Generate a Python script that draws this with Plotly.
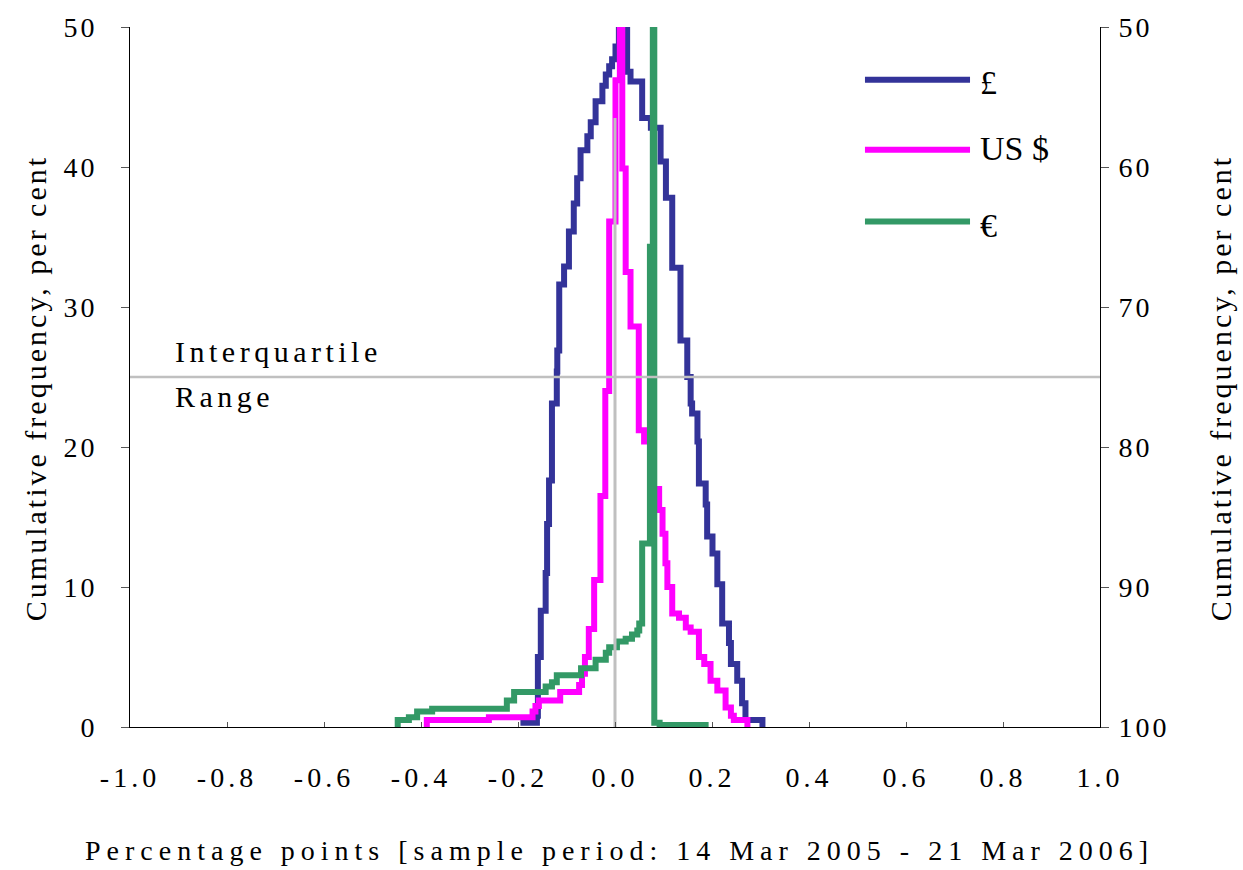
import plotly.graph_objects as go

# ---------------- data ----------------
SERIES_NAMES = ["£", "US $", "€"]
SERIES_COLORS = ["#333399", "#FF00FF", "#339966"]

# Folded cumulative distributions (step points, y = level reached at x)
GBP_X = [-0.195, -0.161, -0.159, -0.153, -0.143, -0.140, -0.136, -0.130, -0.120,
         -0.119, -0.115, -0.105, -0.095, -0.085, -0.078, -0.071, -0.057, -0.050,
         -0.040, -0.026, -0.019, -0.012, -0.006, 0.001, 0.008,
         0.025, 0.032, 0.056, 0.074, 0.094, 0.105, 0.118, 0.135, 0.149, 0.156,
         0.159, 0.170, 0.173, 0.187, 0.190, 0.201, 0.211, 0.221, 0.235, 0.239,
         0.252, 0.262, 0.269, 0.304]
GBP_Y = [0.3, 0.8, 5.0, 8.3, 11.0, 14.5, 17.6, 23.1, 25.4,
         26.9, 31.6, 32.9, 35.4, 37.4, 39.2, 41.2, 42.2, 43.2,
         44.7, 45.8, 46.6, 47.2, 47.7, 48.6, 50.0,
         46.8, 46.1, 43.5, 42.8, 40.4, 37.8, 32.8, 27.6, 25.0, 23.1,
         22.4, 20.4, 17.4, 15.9, 13.6, 12.4, 10.2, 7.4, 6.0, 4.5,
         3.3, 1.7, 0.5, 0.0]

USD_X = [-0.392, -0.388, -0.260, -0.170, -0.164, -0.157, -0.113, -0.074, -0.068,
         -0.062, -0.054, -0.043, -0.030, -0.020, -0.012, 0.001, 0.010,
         0.015, 0.022, 0.032, 0.049, 0.060, 0.078, 0.091, 0.098, 0.104, 0.108,
         0.118, 0.132, 0.146, 0.156, 0.173, 0.184, 0.197, 0.211, 0.228, 0.239,
         0.245, 0.273]
USD_Y = [0.0, 0.5, 0.7, 1.1, 1.5, 1.9, 2.5, 3.0, 3.8,
         5.0, 7.0, 10.5, 16.5, 24.0, 36.1, 46.2, 50.0,
         39.9, 32.5, 28.6, 21.2, 20.4, 17.0, 15.5, 13.8, 11.7, 10.0,
         8.1, 7.8, 7.1, 6.8, 5.0, 4.5, 3.3, 2.6, 1.4, 0.8,
         0.5, 0.0]

EUR_X = [-0.452, -0.448, -0.425, -0.408, -0.377, -0.223, -0.208, -0.143, -0.130,
         -0.120, -0.070, -0.040, -0.019, -0.012, 0.004, 0.022, 0.035, 0.046,
         0.050, 0.056, 0.072, 0.078,
         0.081, 0.092, 0.193]
EUR_Y = [0.0, 0.5, 0.7, 1.1, 1.3, 1.9, 2.5, 2.9, 3.2,
         3.7, 4.2, 4.8, 5.3, 5.7, 6.1, 6.3, 6.6, 6.9,
         7.4, 13.1, 34.3, 50.0,
         0.3, 0.15, 0.15]

X_TICKS = [-1.0, -0.8, -0.6, -0.4, -0.2, 0.0, 0.2, 0.4, 0.6, 0.8, 1.0]
X_TICK_LABELS = ["-1.0", "-0.8", "-0.6", "-0.4", "-0.2", "0.0", "0.2", "0.4", "0.6", "0.8", "1.0"]
Y_LEFT_TICKS = [0, 10, 20, 30, 40, 50]
Y_RIGHT_TICKS = [50, 60, 70, 80, 90, 100]
UPPER_QUARTILE = 75          # on the right (reversed) axis == 25 on the left axis
ZERO_LINE_Y = [0, 43.5]

X_TITLE = "Percentage points [sample period: 14 Mar 2005 - 21 Mar 2006]"
Y_TITLE = "Cumulative frequency, per cent"
IQR_LABEL = ["Interquartile", "Range"]

SERIF = "Liberation Serif"


def spaced(text, px):
    return f'<span style="letter-spacing:{px}px">{text}</span>'


fig = go.Figure()

# interquartile reference line, on the right-hand (reversed) axis, drawn first
fig.add_trace(go.Scatter(x=[X_TICKS[0], X_TICKS[-1]], y=[UPPER_QUARTILE, UPPER_QUARTILE],
                         yaxis="y2", mode="lines", showlegend=False,
                         line=dict(color="#C0C0C0", width=2.5), hoverinfo="skip"))

for xs, ys, name, color in [(GBP_X, GBP_Y, SERIES_NAMES[0], SERIES_COLORS[0]),
                            (USD_X, USD_Y, SERIES_NAMES[1], SERIES_COLORS[1]),
                            (EUR_X, EUR_Y, SERIES_NAMES[2], SERIES_COLORS[2])]:
    fig.add_trace(go.Scatter(x=xs, y=ys, mode="lines", name=name, showlegend=False,
                             line=dict(color=color, width=6, shape="hv"),
                             hoverinfo="skip"))

# vertical grey reference line at zero (drawn on top)
fig.add_trace(go.Scatter(x=[0, 0], y=ZERO_LINE_Y, mode="lines", showlegend=False,
                         line=dict(color="#C0C0C0", width=3), hoverinfo="skip"))

shapes = []
# manual legend
leg_y = [0.9245, 0.8248, 0.7222]
leg_text_y = [0.921, 0.826, 0.717]
annotations = []
for name, color, ly, ty in zip(SERIES_NAMES, SERIES_COLORS, leg_y, leg_text_y):
    shapes.append(dict(type="line", xref="paper", yref="paper", x0=0.7577, x1=0.866,
                       y0=ly, y1=ly, line=dict(color=color, width=6)))
    annotations.append(dict(xref="paper", yref="paper", x=0.8742, y=ty, text=name,
                            showarrow=False, xanchor="left", yanchor="middle",
                            font=dict(family=SERIF, size=34, color="black")))

annotations += [
    dict(xref="paper", yref="paper", x=0.505, y=-0.177, text=spaced(X_TITLE, 6),
         showarrow=False, xanchor="center", yanchor="middle",
         font=dict(family=SERIF, size=28, color="black")),
    dict(xref="paper", yref="paper", x=-0.098, y=0.484, text=spaced(Y_TITLE, 3),
         textangle=-90, showarrow=False, xanchor="center", yanchor="middle",
         font=dict(family=SERIF, size=30, color="black")),
    dict(xref="paper", yref="paper", x=1.1237, y=0.484, text=spaced(Y_TITLE, 3),
         textangle=-90, showarrow=False, xanchor="center", yanchor="middle",
         font=dict(family=SERIF, size=30, color="black")),
    dict(xref="paper", yref="paper", x=0.0443, y=0.537, text=spaced(IQR_LABEL[0], 4.5),
         showarrow=False, xanchor="left", yanchor="middle",
         font=dict(family=SERIF, size=30, color="black")),
    dict(xref="paper", yref="paper", x=0.0443, y=0.472, text=spaced(IQR_LABEL[1], 4.5),
         showarrow=False, xanchor="left", yanchor="middle",
         font=dict(family=SERIF, size=30, color="black")),
]

tickfont = dict(family=SERIF, size=28, color="black")

fig.update_layout(
    width=1243, height=870,
    margin=dict(l=130, r=143, t=25, b=143),
    paper_bgcolor="white", plot_bgcolor="white",
    showlegend=False,
    font=dict(family=SERIF),
    shapes=shapes,
    annotations=annotations,
    xaxis=dict(range=[X_TICKS[0], X_TICKS[-1]], tickmode="array", tickvals=X_TICKS,
               ticktext=[spaced(t, 4) for t in X_TICK_LABELS],
               ticks="inside", ticklen=5, tickcolor="#555555", tickwidth=1,
               showline=True, linecolor="black", linewidth=1,
               showgrid=False, zeroline=False, tickfont=tickfont,
               ticklabelstandoff=25),
    yaxis=dict(range=[0, 50], tickmode="array", tickvals=Y_LEFT_TICKS,
               ticktext=[spaced(str(v), 3) for v in Y_LEFT_TICKS],
               ticks="outside", ticklen=8, tickcolor="#555555",
               showline=True, linecolor="black", linewidth=1,
               showgrid=False, zeroline=False, tickfont=tickfont,
               ticklabelstandoff=18),
    yaxis2=dict(range=[100, 50], autorange=False, overlaying="y", side="right", anchor="x",
                tickmode="array", tickvals=Y_RIGHT_TICKS,
                ticktext=[spaced(str(v), 3) for v in Y_RIGHT_TICKS],
                ticks="outside", ticklen=8, tickcolor="#555555",
                showline=True, linecolor="black", linewidth=1,
                showgrid=False, zeroline=False, tickfont=tickfont,
                ticklabelstandoff=4),
)

fig.write_html("out.html", config={"displayModeBar": False},
               post_script="document.body.style.margin='0';document.body.style.padding='0';")
